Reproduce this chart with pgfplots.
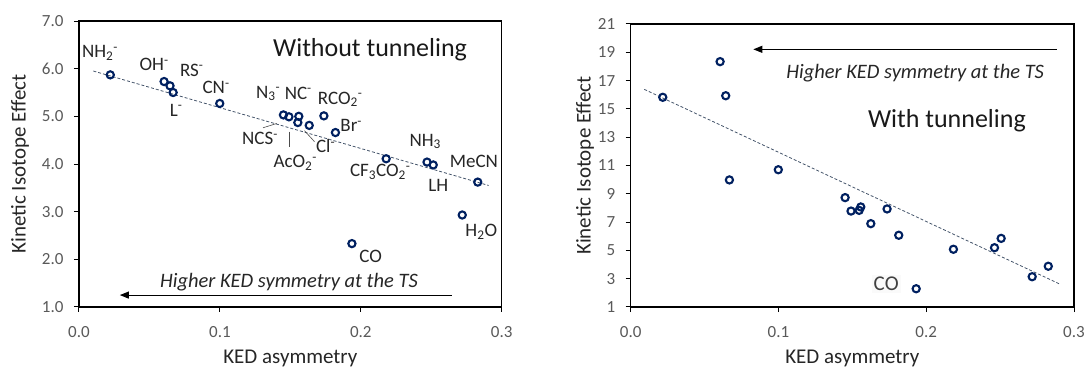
\documentclass[border=0pt]{standalone}
\usepackage{fontspec}
\setmainfont{Carlito}
\usepackage{pgfplots}
\pgfplotsset{compat=1.18}
\usetikzlibrary{arrows.meta}
\definecolor{mk}{RGB}{0,32,96}
\definecolor{tl}{RGB}{68,84,106}
\definecolor{tk}{RGB}{89,89,89}
\newcommand\sbsp[2]{\textsubscript{#1}\textsuperscript{#2}}
\pgfplotsset{kie/.style={
  scale only axis, clip=false,
  axis line style={line width=1.1pt},
  tick align=outside, tick pos=left,
  major tick style={black, line width=1pt}, major tick length=5pt,
  /pgf/number format/assume math mode=true,
  ticklabel style={font=\fontsize{17}{20}\selectfont, text=tk},
  xticklabel style={yshift=-11pt},
  yticklabel style={xshift=-7pt},
  xmin=0, xmax=0.3, xtick={0,0.1,0.2,0.3},
  xticklabel style={/pgf/number format/.cd, fixed, fixed zerofill, precision=1},
  xlabel={KED asymmetry}, ylabel={Kinetic Isotope Effect},
  every axis x label/.style={at={(axis description cs:0.5,0)}, anchor=center, yshift=-51pt,
     font=\fontsize{21}{24}\selectfont, text=black!85},
  every axis y label/.style={at={(axis description cs:0,0.5)}, anchor=center, rotate=90,
     font=\fontsize{21}{24}\selectfont, text=black!85},
}}
\tikzset{lab/.style={font=\fontsize{19}{22}\selectfont, text=black!85, inner sep=0pt},
  pts/.style={only marks, mark=o, mark size=3.6pt, mark options={line width=2.1pt, draw=mk}}}
\begin{document}
\begin{tikzpicture}
\path[use as bounding box] (0,0) rectangle (1088pt,367pt);
% ---------------- left ----------------
\begin{axis}[kie, at={(79pt,60pt)}, anchor=south west, width=422.7pt, height=286pt,
  ymin=1, ymax=7, ytick={1,2,...,7},
  yticklabel style={/pgf/number format/.cd, fixed, fixed zerofill, precision=1},
  every axis y label/.append style={yshift=59pt}]
\addplot[tl, dash pattern=on 3pt off 2pt, line width=0.8pt] coordinates {(0.0102,5.95) (0.2907,3.55)};
\addplot[pts] coordinates {
 (0.0222,5.87) (0.0604,5.73) (0.0646,5.64) (0.0668,5.50) (0.0999,5.27)
 (0.1451,5.03) (0.1490,4.99) (0.1560,5.00) (0.1553,4.87) (0.1634,4.81)
 (0.1738,5.01) (0.1820,4.66) (0.2180,4.11) (0.2470,4.04) (0.2514,3.98)
 (0.2830,3.62) (0.2720,2.93) (0.1937,2.33)};
\node[lab] at (axis cs:0.0149,6.33) {NH\sbsp{2}{-}};
\node[lab] at (axis cs:0.0533,6.08) {OH\textsuperscript{-}};
\node[lab] at (axis cs:0.0800,5.97) {RS\textsuperscript{-}};
\node[lab] at (axis cs:0.0973,5.61) {CN\textsuperscript{-}};
\node[lab] at (axis cs:0.0689,5.13) {L\textsuperscript{-}};
\node[lab] at (axis cs:0.1342,5.48) {N\sbsp{3}{-}};
\node[lab] at (axis cs:0.1556,5.49) {NC\textsuperscript{-}};
\node[lab] at (axis cs:0.1854,5.36) {RCO\sbsp{2}{-}};
\node[lab] at (axis cs:0.1932,4.80) {Br\textsuperscript{-}};
\node[lab] at (axis cs:0.1285,4.54) {NCS\textsuperscript{-}};
\node[lab] at (axis cs:0.1750,4.37) {Cl\textsuperscript{-}};
\node[lab] at (axis cs:0.1535,4.02) {AcO\sbsp{2}{-}};
\node[lab] at (axis cs:0.2138,3.84) {CF\textsubscript{3}CO\sbsp{2}{-}};
\node[lab] at (axis cs:0.2457,4.47) {NH\textsubscript{3}};
\node[lab] at (axis cs:0.2550,3.56) {LH};
\node[lab] at (axis cs:0.2803,4.05) {MeCN};
\node[lab] at (axis cs:0.2855,2.58) {H\textsubscript{2}O};
\node[lab] at (axis cs:0.2070,2.06) {CO};
\draw[black!70, line width=0.6pt] (axis cs:0.1306,4.76) -- (axis cs:0.1403,4.85);
\draw[black!70, line width=0.6pt] (axis cs:0.1490,4.68) -- (axis cs:0.1490,4.36);
\draw[black!70, line width=0.6pt] (axis cs:0.1600,4.70) -- (axis cs:0.1671,4.47);
\node[font=\fontsize{26}{30}\selectfont, text=black!90] at (axis cs:0.2066,6.39) {Without tunneling};
\draw[line width=1pt, -{Triangle[length=9pt,width=7pt]}] (axis cs:0.2647,1.25) -- (axis cs:0.029,1.25);
\node[font=\itshape\fontsize{20.5}{24}\selectfont, text=black!85] at (axis cs:0.149,1.53) {Higher KED symmetry at the TS};
\end{axis}
% ---------------- right ----------------
\begin{axis}[kie, at={(630.7pt,60pt)}, anchor=south west, width=443.3pt, height=283pt,
  ymin=1, ymax=21, ytick={1,3,...,21},
  every axis y label/.append style={yshift=45.7pt}]
\addplot[tl, dash pattern=on 3pt off 2pt, line width=0.8pt] coordinates {(0.0092,16.38) (0.2898,2.65)};
\addplot[pts] coordinates {
 (0.0217,15.82) (0.0605,18.34) (0.0643,15.93) (0.0668,9.98) (0.0999,10.70)
 (0.1451,8.73) (0.1491,7.78) (0.1546,7.83) (0.1557,8.07) (0.1625,6.89)
 (0.1735,7.93) (0.1814,6.07) (0.2184,5.08) (0.2462,5.19) (0.2507,5.85)
 (0.2717,3.14) (0.2826,3.88) (0.1932,2.29)};
\node[font=\fontsize{21}{24}\selectfont, text=black!75, fill=black!2, inner sep=2pt] at (axis cs:0.1729,2.63) {CO};
\node[font=\fontsize{26}{30}\selectfont, text=black!90] at (axis cs:0.214,14.2) {With tunneling};
\draw[line width=1pt, -{Triangle[length=9pt,width=7pt]}] (axis cs:0.2884,19.21) -- (axis cs:0.083,19.21);
\node[font=\itshape\fontsize{20.5}{24}\selectfont, text=black!85] at (axis cs:0.1925,17.5) {Higher KED symmetry at the TS};
\end{axis}
\end{tikzpicture}
\end{document}
